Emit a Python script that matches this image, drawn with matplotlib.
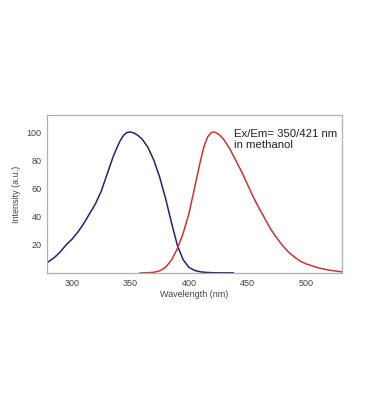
import matplotlib
matplotlib.use('Agg')
import matplotlib.pyplot as plt

# Excitation / emission spectra
ex_wl = [279, 285, 290, 295, 300, 305, 310, 315, 320, 325, 330, 335, 338, 341, 344, 347,
         350, 353, 356, 360, 365, 370, 375, 380, 385, 390, 395, 400, 405, 410, 415, 420, 430, 438]
ex_int = [7.5, 11, 15, 20, 24, 29, 35, 42, 49, 58, 70, 82, 88, 93.5, 97.5, 99.7,
          100, 99.3, 97.8, 95, 89, 80, 68, 53, 36, 20, 9.5, 4, 1.8, 0.8, 0.4, 0.2, 0.1, 0.1]

em_wl = [358, 365, 370, 375, 380, 385, 390, 395, 400, 405, 410, 413, 416, 419, 421, 423,
         426, 430, 435, 440, 445, 450, 455, 460, 465, 470, 475, 480, 485, 490, 495, 500,
         510, 520, 531]
em_int = [0, 0.2, 0.5, 1.5, 4, 9, 17, 28, 42, 61, 80, 90, 96.5, 99.5, 100, 99.6,
          98, 94.5, 88, 80, 72, 63, 54, 46, 38.5, 31, 25, 19.5, 15, 11.5, 8.5, 6.5,
          3.8, 2, 0.8]

xticks = [300, 350, 400, 450, 500]
yticks = [20, 40, 60, 80, 100]

plt.rcParams['font.family'] = ['Liberation Sans', 'DejaVu Sans']

fig = plt.figure(figsize=(3.67, 4.2), dpi=100)
ax = fig.add_axes([0.128, 0.35, 0.804, 0.376])

ax.plot(ex_wl, ex_int, color='#23236e', lw=1.1)
ax.plot(em_wl, em_int, color='#cc3333', lw=1.1)

ax.set_xlim(278.6, 531)
ax.set_ylim(0, 112)
ax.set_xticks(xticks)
ax.set_yticks(yticks)
ax.tick_params(length=0, pad=4, labelsize=6.5, colors='#444444')

for s in ax.spines.values():
    s.set_color('#b0b0b0')
    s.set_linewidth(0.9)

ax.set_xlabel('Wavelength (nm)', fontsize=6.5, color='#444444', labelpad=2)
ax.set_ylabel('Intensity (a.u.)', fontsize=6.5, color='#444444', labelpad=4)

ax.text(0.634, 0.91, 'Ex/Em= 350/421 nm\nin methanol', transform=ax.transAxes,
        fontsize=8.2, color='#222222', va='top', ha='left', linespacing=1.15)

fig.savefig('out.png', dpi=100, facecolor='white')
